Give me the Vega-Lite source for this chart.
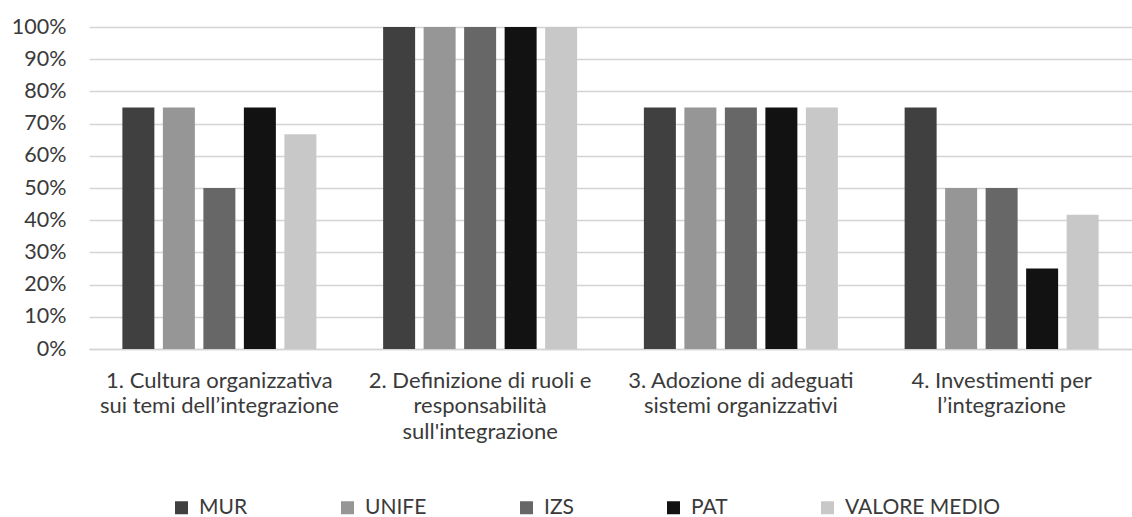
{
  "$schema": "https://vega.github.io/schema/vega-lite/v6.json",
  "autosize": "none",
  "width": 1043,
  "height": 322,
  "padding": {"left": 89, "top": 27, "right": 0, "bottom": 168},
  "background": "white",
  "config": {
    "font": "Lato",
    "view": {"stroke": null}
  },
  "data": {
    "values": [
      {"tema": "1. Cultura organizzativa\nsui temi dell’integrazione", "ente": "MUR", "valore": 0.75},
      {"tema": "1. Cultura organizzativa\nsui temi dell’integrazione", "ente": "UNIFE", "valore": 0.75},
      {"tema": "1. Cultura organizzativa\nsui temi dell’integrazione", "ente": "IZS", "valore": 0.5},
      {"tema": "1. Cultura organizzativa\nsui temi dell’integrazione", "ente": "PAT", "valore": 0.75},
      {"tema": "1. Cultura organizzativa\nsui temi dell’integrazione", "ente": "VALORE MEDIO", "valore": 0.6667},
      {"tema": "2. Definizione di ruoli e\nresponsabilità\nsull'integrazione", "ente": "MUR", "valore": 1.0},
      {"tema": "2. Definizione di ruoli e\nresponsabilità\nsull'integrazione", "ente": "UNIFE", "valore": 1.0},
      {"tema": "2. Definizione di ruoli e\nresponsabilità\nsull'integrazione", "ente": "IZS", "valore": 1.0},
      {"tema": "2. Definizione di ruoli e\nresponsabilità\nsull'integrazione", "ente": "PAT", "valore": 1.0},
      {"tema": "2. Definizione di ruoli e\nresponsabilità\nsull'integrazione", "ente": "VALORE MEDIO", "valore": 1.0},
      {"tema": "3. Adozione di adeguati\nsistemi organizzativi", "ente": "MUR", "valore": 0.75},
      {"tema": "3. Adozione di adeguati\nsistemi organizzativi", "ente": "UNIFE", "valore": 0.75},
      {"tema": "3. Adozione di adeguati\nsistemi organizzativi", "ente": "IZS", "valore": 0.75},
      {"tema": "3. Adozione di adeguati\nsistemi organizzativi", "ente": "PAT", "valore": 0.75},
      {"tema": "3. Adozione di adeguati\nsistemi organizzativi", "ente": "VALORE MEDIO", "valore": 0.75},
      {"tema": "4. Investimenti per\nl’integrazione", "ente": "MUR", "valore": 0.75},
      {"tema": "4. Investimenti per\nl’integrazione", "ente": "UNIFE", "valore": 0.5},
      {"tema": "4. Investimenti per\nl’integrazione", "ente": "IZS", "valore": 0.5},
      {"tema": "4. Investimenti per\nl’integrazione", "ente": "PAT", "valore": 0.25},
      {"tema": "4. Investimenti per\nl’integrazione", "ente": "VALORE MEDIO", "valore": 0.4167}
    ]
  },
  "mark": {"type": "bar"},
  "encoding": {
    "x": {
      "field": "tema",
      "type": "nominal",
      "sort": null,
      "title": null,
      "scale": {"paddingInner": 0.256, "paddingOuter": 0.128},
      "axis": {
        "labelAngle": 0,
        "labelExpr": "split(datum.value, '\\n')",
        "labelFont": "Lato",
        "labelFontSize": 22,
        "labelColor": "#3a3a3a",
        "labelLimit": 0,
        "labelLineHeight": 25.5,
        "labelPadding": 21,
        "labelBaseline": "top",
        "ticks": false,
        "domainColor": "#d4d4d4",
        "domainWidth": 1.5,
        "grid": false
      }
    },
    "xOffset": {
      "field": "ente",
      "type": "nominal",
      "sort": ["MUR", "UNIFE", "IZS", "PAT", "VALORE MEDIO"],
      "scale": {"paddingInner": 0.21, "paddingOuter": 0}
    },
    "y": {
      "field": "valore",
      "type": "quantitative",
      "title": null,
      "scale": {"domain": [0, 1], "nice": false},
      "axis": {
        "format": ".0%",
        "values": [0, 0.1, 0.2, 0.3, 0.4, 0.5, 0.6, 0.7, 0.8, 0.9, 1.0],
        "labelFont": "Lato",
        "labelFontSize": 21.5,
        "labelColor": "#3a3a3a",
        "labelPadding": 23,
        "ticks": false,
        "domain": false,
        "grid": true,
        "gridColor": "#d4d4d4",
        "gridWidth": 1.5
      }
    },
    "color": {
      "field": "ente",
      "type": "nominal",
      "sort": ["MUR", "UNIFE", "IZS", "PAT", "VALORE MEDIO"],
      "scale": {
        "domain": ["MUR", "UNIFE", "IZS", "PAT", "VALORE MEDIO"],
        "range": ["#404040", "#969696", "#676767", "#121212", "#c8c8c8"]
      },
      "legend": {
        "title": null,
        "orient": "none",
        "direction": "horizontal",
        "legendX": 82,
        "legendY": 470,
        "symbolType": "square",
        "symbolSize": 169,
        "symbolStrokeWidth": 0,
        "labelFont": "Lato",
        "labelFontSize": 21,
        "labelColor": "#3a3a3a",
        "labelLimit": 0,
        "labelOffset": 7,
        "columnPadding": 89
      }
    }
  }
}
